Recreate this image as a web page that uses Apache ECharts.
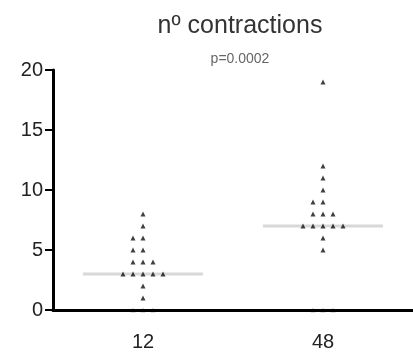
<!DOCTYPE html>
<html>
<head>
<meta charset="utf-8">
<script src="https://cdn.jsdelivr.net/npm/echarts@6/dist/echarts.min.js"></script>
<style>
  html, body { margin: 0; padding: 0; background: #fff; }
  #chart { width: 413px; height: 352px; }
</style>
</head>
<body>
<div id="chart"></div>
<script>
// groups and values
var categories = ['12', '48'];
var group12 = [8, 7, 6, 6, 5, 5, 4, 4, 4, 3, 3, 3, 3, 3, 2, 1, 0, 0, 0];
var group48 = [19, 12, 11, 10, 9, 9, 8, 8, 8, 7, 7, 7, 7, 7, 6, 5, 0, 0, 0];
var medians = [3, 7];
var yTicks = [0, 5, 10, 15, 20];

var chart = echarts.init(document.getElementById('chart'));

// points with the same value are spread sideways (pixel offset)
function spread(values, catIndex) {
  var counts = {};
  values.forEach(function (v) { counts[v] = (counts[v] || 0) + 1; });
  var seen = {};
  return values.map(function (v) {
    var n = counts[v];
    var i = seen[v] || 0;
    seen[v] = i + 1;
    var off = (i - Math.floor(n / 2)) * 10;
    var item = { value: [catIndex, v], symbolOffset: [off, 0] };
    // the zeros sit under the axis line and look faded
    if (v === 0) item.itemStyle = { color: '#aaa' };
    return item;
  });
}

var points = spread(group12, 0).concat(spread(group48, 1));

var option = {
  animation: false,
  title: {
    text: 'nº contractions',
    subtext: 'p=0.0002',
    left: 235,
    top: 9,
    textAlign: 'center',
    itemGap: 13,
    textStyle: { fontFamily: 'Liberation Sans', fontSize: 25, fontWeight: 'normal', color: '#333' },
    subtextStyle: { fontFamily: 'Liberation Sans', fontSize: 14, color: '#666' }
  },
  grid: { left: 53, right: -5, top: 70, bottom: 42 },
  xAxis: {
    type: 'category',
    data: categories,
    z: 3,
    axisLine: { lineStyle: { color: '#000', width: 3 } },
    axisTick: { alignWithLabel: true, length: 6, lineStyle: { color: '#000', width: 2 } },
    axisLabel: { margin: 22, fontFamily: 'Liberation Sans', fontSize: 20, color: '#222' },
    splitLine: { show: false }
  },
  yAxis: {
    type: 'value',
    min: yTicks[0],
    max: yTicks[yTicks.length - 1],
    interval: 5,
    z: 3,
    axisLine: { show: true, lineStyle: { color: '#000', width: 3 } },
    axisTick: { show: true, length: 8, lineStyle: { color: '#000', width: 2 } },
    axisLabel: { margin: 10, fontFamily: 'Liberation Sans', fontSize: 20, color: '#222' },
    splitLine: { show: false }
  },
  series: [
    {
      // median lines
      type: 'custom',
      z: 1,
      data: medians.map(function (m, i) { return [i, m]; }),
      renderItem: function (params, api) {
        var p = api.coord([api.value(0), api.value(1)]);
        return {
          type: 'line',
          shape: { x1: p[0] - 60, y1: p[1], x2: p[0] + 60, y2: p[1] },
          style: { stroke: '#d8d8d8', lineWidth: 3 }
        };
      }
    },
    {
      type: 'scatter',
      z: 2,
      symbol: 'triangle',
      symbolSize: 5,
      itemStyle: { color: '#111' },
      data: points
    }
  ]
};

chart.setOption(option);
</script>
</body>
</html>
